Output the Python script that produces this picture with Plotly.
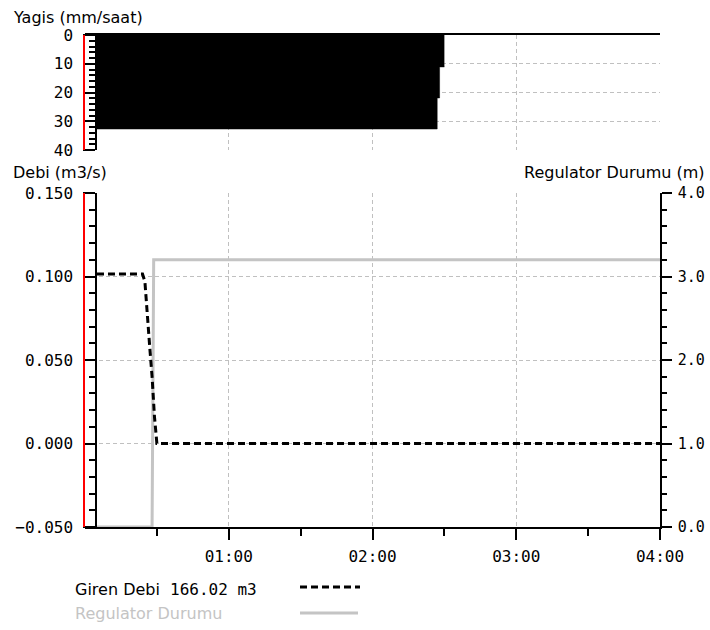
import plotly.graph_objects as go

# ---------------- data ----------------
DAY = "2024-01-01 "

# rainfall intensity (mm/saat), step intervals: value i holds from rain_time[i] to rain_time[i+1]
rain_time = ["00:05", "02:27", "02:28", "02:30"]
rain_mm_h = [32.7, 21.9, 11.1]

# inflow discharge (m3/s)
flow_time = ["00:05", "00:24", "00:25", "00:26", "00:27", "00:28", "00:29", "00:30", "04:00"]
flow_m3s = [0.1015, 0.1015, 0.097, 0.075, 0.058, 0.040, 0.016, 0.0, 0.0]

# regulator position (m)
reg_time = ["00:05", "00:28:00", "00:28:40", "04:00"]
reg_m = [0.0, 0.0, 3.2, 3.2]

x_tick_times = ["01:00", "02:00", "03:00", "04:00"]
x_tick_labels = ["01:00", "02:00", "03:00", "04:00"]
x_minor_times = ["00:30", "01:30", "02:30", "03:30"]

legend_name = "Giren Debi"
legend_volume = "166.02 m3"
reg_label = "Regulator Durumu"

# ---------------- layout helpers ----------------
W, H = 710, 630
ML, MR, MT, MB = 85, 50, 35, 103
PW, PH = W - ML - MR, H - MT - MB


def px_x(px):
    return (px - ML) / PW


def px_y(py):
    return (H - MB - py) / PH


GRID = "#c0c0c0"
GREY_LINE = "#c4c4c4"
TICKFONT = dict(family="DejaVu Sans Mono", size=16, color="black")
TEXTFONT = dict(family="DejaVu Sans", size=16, color="black")
AXPOS = px_x(96)

fig = go.Figure()

# regulator (base bottom axis, right side)
fig.add_trace(go.Scatter(
    x=[DAY + t for t in reg_time], y=reg_m, mode="lines",
    line=dict(color=GREY_LINE, width=3), xaxis="x", yaxis="y",
    showlegend=False, hoverinfo="skip"))

# discharge (overlay axis, left side)
fig.add_trace(go.Scatter(
    x=[DAY + t for t in flow_time], y=flow_m3s, mode="lines",
    line=dict(color="black", width=3, dash="7px,4px"), xaxis="x", yaxis="y3",
    showlegend=False, hoverinfo="skip"))

# rainfall (top panel, reversed axis)
fig.add_trace(go.Scatter(
    x=[DAY + t for t in rain_time], y=rain_mm_h + [rain_mm_h[-1]], mode="lines",
    line=dict(color="black", width=0.5, shape="hv"), fill="tozeroy", fillcolor="black",
    xaxis="x2", yaxis="y2", showlegend=False, hoverinfo="skip"))

xrange = [DAY + "00:00", DAY + "04:00"]
bottom_dom = [0, px_y(193)]
top_dom = [px_y(150), 1]

common_x = dict(
    type="date", range=xrange, tickmode="array",
    tickvals=[DAY + t for t in x_tick_times], ticktext=x_tick_labels,
    showgrid=True, gridcolor=GRID, griddash="4px,3px", gridwidth=1,
    zeroline=False, tickfont=TICKFONT, automargin=False,
)

fig.update_layout(
    template="none",
    width=W, height=H,
    margin=dict(l=ML, r=MR, t=MT, b=MB, pad=0, autoexpand=False),
    paper_bgcolor="white", plot_bgcolor="white",
    showlegend=False,
    font=dict(family="DejaVu Sans", color="black"),
    xaxis=dict(
        **common_x, domain=[0, 1], anchor="y",
        showline=True, linecolor="black", linewidth=1.5,
        ticks="outside", ticklen=11, tickcolor="black", tickwidth=1.5,
        ticklabelstandoff=3,
        minor=dict(tickmode="array", tickvals=[DAY + t for t in x_minor_times],
                   ticks="outside", ticklen=7, tickcolor="black", tickwidth=1.5,
                   showgrid=False),
    ),
    xaxis2=dict(
        **common_x, domain=[0, 1], anchor="y2", matches="x", side="top",
        showline=True, linecolor="black", linewidth=1.5,
        ticks="", showticklabels=False,
    ),
    # right axis: Regulator Durumu (m)
    yaxis=dict(
        domain=bottom_dom, anchor="x", side="right", range=[0, 4],
        tickmode="linear", tick0=0, dtick=1, tickformat=".1f",
        showline=True, linecolor="black", linewidth=1.5,
        ticks="outside", ticklen=10, tickcolor="black", tickwidth=1.5,
        minor=dict(dtick=0.2, tick0=0, ticks="outside", ticklen=5, tickcolor="black",
                   tickwidth=1.5, showgrid=False),
        showgrid=False, zeroline=False,
        tickfont=dict(family="DejaVu Sans Mono", size=15, color="black"),
        ticklabelstandoff=3, automargin=False,
    ),
    # left axis: Debi (m3/s)
    yaxis3=dict(
        overlaying="y", anchor="free", position=AXPOS, side="left",
        range=[-0.05, 0.15], tickmode="linear", tick0=0, dtick=0.05, tickformat=".3f",
        showline=True, linecolor="black", linewidth=1.5,
        ticks="outside", ticklen=12, tickcolor="black", tickwidth=1.5,
        minor=dict(dtick=0.01, tick0=0, ticks="outside", ticklen=6, tickcolor="black",
                   tickwidth=1.5, showgrid=False),
        showgrid=True, gridcolor=GRID, griddash="4px,3px", gridwidth=1,
        zeroline=False, tickfont=TICKFONT, ticklabelstandoff=7, automargin=False,
    ),
    # top panel: Yagis (mm/saat), reversed
    yaxis2=dict(
        domain=top_dom, anchor="free", position=AXPOS, side="left",
        range=[40, 0], tickmode="linear", tick0=0, dtick=10,
        showline=True, linecolor="black", linewidth=1.5,
        ticks="outside", ticklen=12, tickcolor="black", tickwidth=1.5,
        minor=dict(dtick=2, tick0=0, ticks="outside", ticklen=6, tickcolor="black",
                   tickwidth=1.5, showgrid=False),
        showgrid=True, gridcolor=GRID, griddash="4px,3px", gridwidth=1,
        zeroline=False, tickfont=TICKFONT, ticklabelstandoff=7, automargin=False,
    ),
)

# red boundary lines at the left edge of both panels
for (ytop, ybot) in ((35, 150), (193, 527)):
    fig.add_shape(type="line", xref="paper", yref="paper",
                  x0=px_x(84), x1=px_x(84), y0=px_y(ybot), y1=px_y(ytop),
                  line=dict(color="red", width=2), layer="above")

# axis titles
fig.add_annotation(text="Yagis (mm/saat)", xref="paper", yref="paper",
                   x=px_x(11), y=px_y(18), xanchor="left", yanchor="middle",
                   showarrow=False, font=TEXTFONT)
fig.add_annotation(text="Debi (m3/s)", xref="paper", yref="paper",
                   x=px_x(11), y=px_y(172), xanchor="left", yanchor="middle",
                   showarrow=False, font=TEXTFONT)
fig.add_annotation(text="Regulator Durumu (m)", xref="paper", yref="paper",
                   x=px_x(707), y=px_y(172), xanchor="right", yanchor="middle",
                   showarrow=False, font=TEXTFONT)

# custom legend
fig.add_annotation(text=legend_name, xref="paper", yref="paper",
                   x=px_x(73), y=px_y(589), xanchor="left", yanchor="middle",
                   showarrow=False, font=TEXTFONT)
fig.add_annotation(text=legend_volume, xref="paper", yref="paper",
                   x=px_x(168), y=px_y(589), xanchor="left", yanchor="middle",
                   showarrow=False, font=dict(family="DejaVu Sans Mono", size=16, color="black"))
fig.add_annotation(text=reg_label, xref="paper", yref="paper",
                   x=px_x(73), y=px_y(613), xanchor="left", yanchor="middle",
                   showarrow=False, font=dict(family="DejaVu Sans", size=16, color=GREY_LINE))
fig.add_shape(type="line", xref="paper", yref="paper",
              x0=px_x(300), x1=px_x(360), y0=px_y(587), y1=px_y(587),
              line=dict(color="black", width=3, dash="7px,4px"))
fig.add_shape(type="line", xref="paper", yref="paper",
              x0=px_x(300), x1=px_x(358), y0=px_y(613), y1=px_y(613),
              line=dict(color=GREY_LINE, width=3))

fig.write_html("out.html", config={"displayModeBar": False},
               post_script="document.body.style.margin='0px';")
